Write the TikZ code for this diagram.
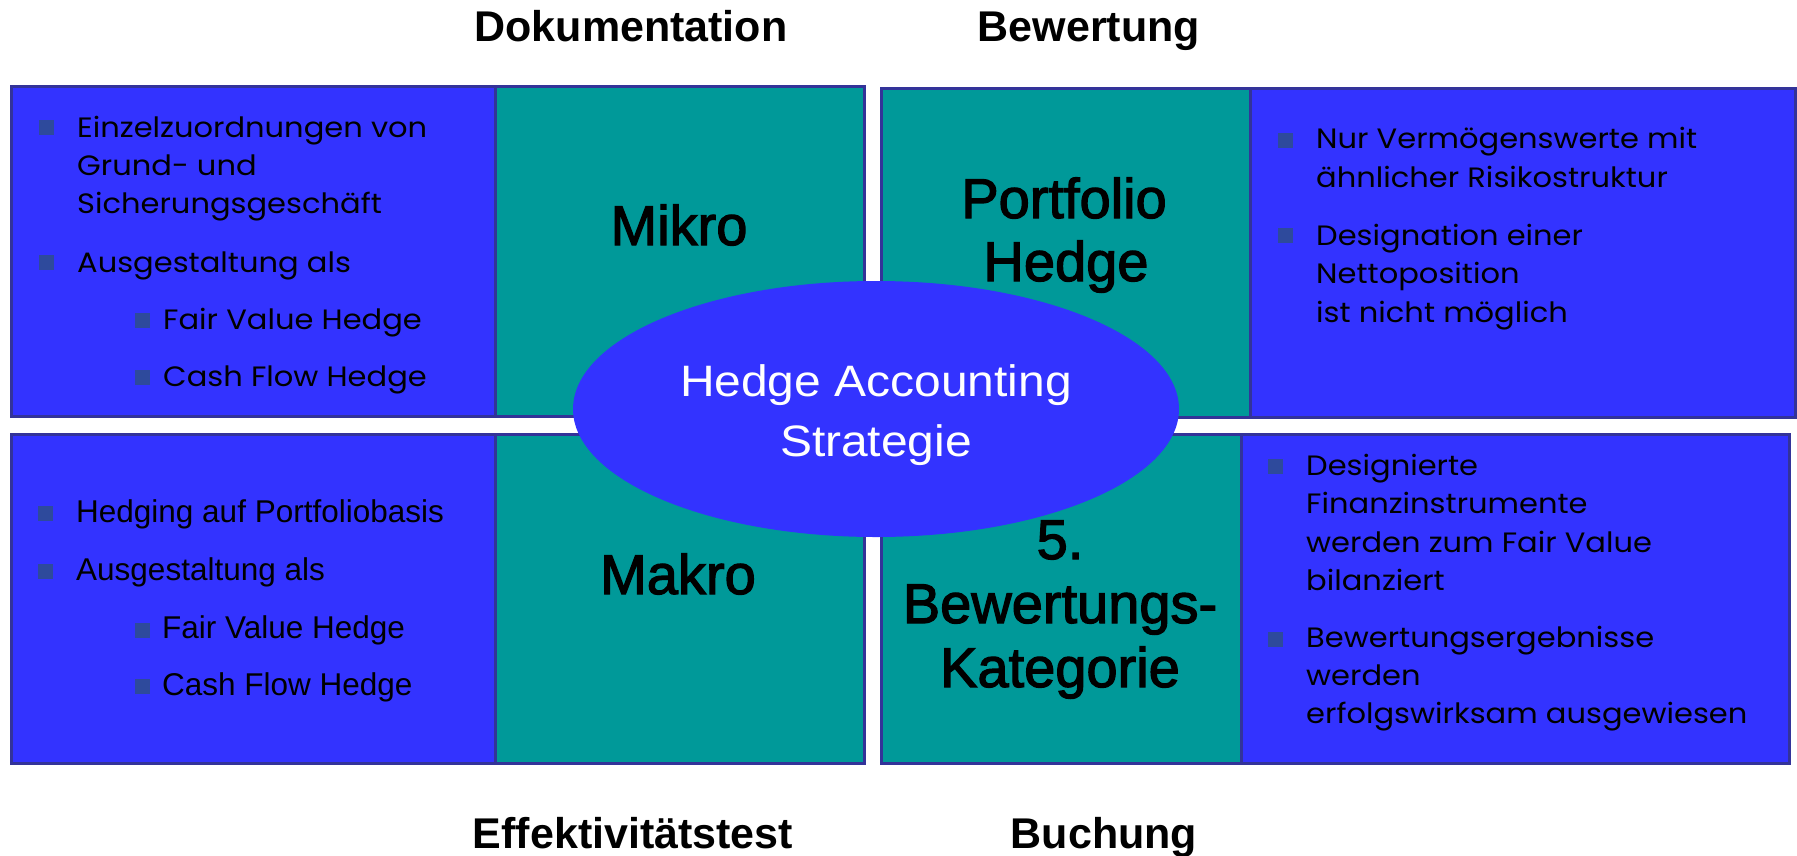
\documentclass[tikz,border=0pt]{standalone}
\usepackage{fontspec}
\usetikzlibrary{shapes.geometric}
\newfontfamily\gothic[FakeStretch=1.09]{Poppins}
\newfontfamily\arialf{Liberation Sans}
\newfontfamily\arialwide[FakeStretch=1.09]{Liberation Sans}
\newfontfamily\arialheavy[FakeBold=2.2]{Liberation Sans}
\definecolor{hblue}{HTML}{3333FF}
\definecolor{hteal}{HTML}{009999}
\definecolor{hborder}{HTML}{333399}
\definecolor{hbullet}{HTML}{2E4A9C}
\tikzset{
  panel/.style={rectangle, draw=hborder, line width=2.5pt, inner sep=0pt, anchor=north west},
  bluebox/.style={panel, fill=hblue},
  tealbox/.style={panel, fill=hteal},
  bulletsq/.style={rectangle, fill=hbullet, minimum size=15pt, inner sep=0pt},
  gtxt/.style={anchor=base west, inner sep=0pt, font=\gothic\fontsize{28}{38}\selectfont},
  atxt/.style={anchor=base west, inner sep=0pt, font=\arialf\fontsize{31.5}{38}\selectfont},
  header/.style={anchor=base, inner sep=0pt, font=\arialf\bfseries\fontsize{43}{50}\selectfont},
  biglabel/.style={anchor=base, inner sep=0pt, font=\arialheavy\fontsize{56}{63}\selectfont},
  centre/.style={ellipse, fill=hblue, minimum width=606pt, minimum height=256pt, inner sep=0pt},
  centretxt/.style={anchor=base, inner sep=0pt, text=white, font=\arialwide\fontsize{44}{60}\selectfont},
}
\begin{document}
\begin{tikzpicture}[x=1pt, y=-1pt]
\useasboundingbox (0,0) rectangle (1797,855);

% headings above and below the panels
\node[header] (hdoc) at (631,41) {Dokumentation};
\node[header] (hbew) at (1089,41) {Bewertung};
\node[header] (heff) at (633,848) {Effektivitätstest};
\node[header] (hbuch) at (1104,848) {Buchung};

% four panels, each a blue text field and a teal title field
\node[bluebox, minimum width=484pt, minimum height=330pt] (tlb) at (10,85) {};
\node[tealbox, minimum width=369pt, minimum height=330pt] (tlt) at (494,85) {};
\node[bluebox, minimum width=484pt, minimum height=329pt] (blb) at (10,433) {};
\node[tealbox, minimum width=369pt, minimum height=329pt] (blt) at (494,433) {};
\node[tealbox, minimum width=369pt, minimum height=329pt] (trt) at (880,87) {};
\node[bluebox, minimum width=545pt, minimum height=329pt] (trb) at (1249,87) {};
\node[tealbox, minimum width=360pt, minimum height=329pt] (brt) at (880,433) {};
\node[bluebox, minimum width=548pt, minimum height=329pt] (brb) at (1240,433) {};

% titles of the teal fields
\node[biglabel] (mikro) at (679,245) {Mikro};
\node[biglabel] (makro) at (678,594) {Makro};
\node[biglabel] (port1) at (1064,218) {Portfolio};
\node[biglabel] (port2) at (1066,281) {Hedge};
\node[biglabel] (kat1) at (1060,559) {5.};
\node[biglabel] (kat2) at (1060,623) {Bewertungs-};
\node[biglabel] (kat3) at (1060,687) {Kategorie};

% Mikro hedge
\node[bulletsq] (b1) at (46.5,127.5) {};
\node[gtxt] (t1a) at (77,137) {Einzelzuordnungen von};
\node[gtxt] (t1b) at (77,175) {Grund- und};
\node[gtxt] (t1c) at (77,213) {Sicherungsgeschäft};
\node[bulletsq] (b2) at (46.5,262.5) {};
\node[gtxt] (t2a) at (77,272) {Ausgestaltung als};
\node[bulletsq] (b3) at (142.5,320) {};
\node[gtxt] (t3a) at (163,329) {Fair Value Hedge};
\node[bulletsq] (b4) at (142.5,377.5) {};
\node[gtxt] (t4a) at (163,386) {Cash Flow Hedge};

% Makro hedge
\node[bulletsq] (b5) at (45.5,513) {};
\node[atxt] (t5a) at (76,522) {Hedging auf Portfoliobasis};
\node[bulletsq] (b6) at (45.5,571) {};
\node[atxt] (t6a) at (76,580) {Ausgestaltung als};
\node[bulletsq] (b7) at (142.5,630) {};
\node[atxt] (t7a) at (162,638) {Fair Value Hedge};
\node[bulletsq] (b8) at (142.5,686.5) {};
\node[atxt] (t8a) at (162,695) {Cash Flow Hedge};

% Portfolio hedge
\node[bulletsq] (b9) at (1285,140) {};
\node[gtxt] (t9a) at (1316,148) {Nur Vermögenswerte mit};
\node[gtxt] (t9b) at (1316,187) {ähnlicher Risikostruktur};
\node[bulletsq] (b10) at (1285,235.5) {};
\node[gtxt] (t10a) at (1316,245) {Designation einer};
\node[gtxt] (t10b) at (1316,283) {Nettoposition};
\node[gtxt] (t10c) at (1316,322) {ist nicht möglich};

% fifth valuation category
\node[bulletsq] (b11) at (1275.5,466) {};
\node[gtxt] (t11a) at (1306,475) {Designierte};
\node[gtxt] (t11b) at (1306,513) {Finanzinstrumente};
\node[gtxt] (t11c) at (1306,552) {werden zum Fair Value};
\node[gtxt] (t11d) at (1306,590) {bilanziert};
\node[bulletsq] (b12) at (1275.5,639) {};
\node[gtxt] (t12a) at (1306,647) {Bewertungsergebnisse};
\node[gtxt] (t12b) at (1306,685) {werden};
\node[gtxt] (t12c) at (1306,723) {erfolgswirksam ausgewiesen};

% central ellipse
\node[centre] (core) at (876,409) {};
\node[centretxt] (core1) at (876,396) {Hedge Accounting};
\node[centretxt] (core2) at (876,456) {Strategie};
\end{tikzpicture}
\end{document}
